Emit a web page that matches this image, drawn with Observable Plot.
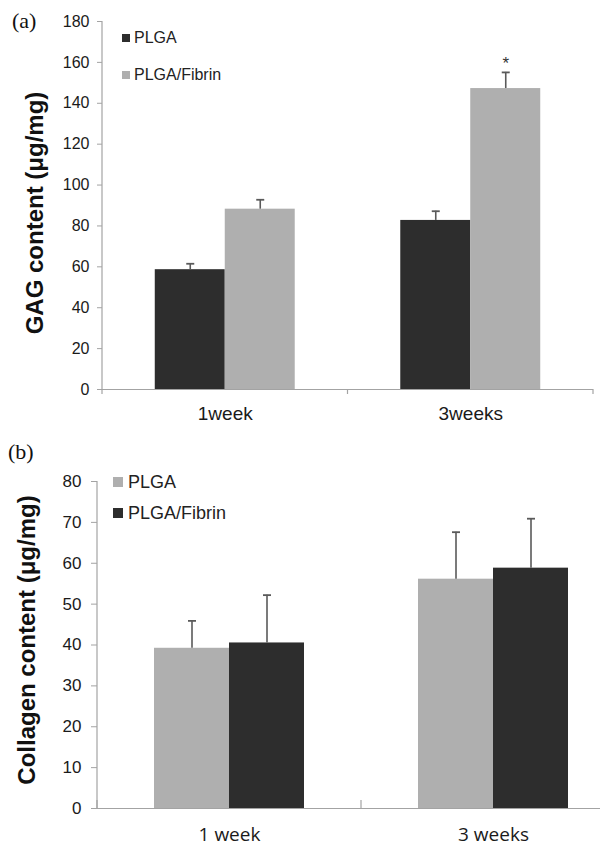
<!DOCTYPE html>
<html>
<head>
<meta charset="utf-8">
<script src="https://cdn.jsdelivr.net/npm/d3@7"></script>
<script src="https://cdn.jsdelivr.net/npm/@observablehq/plot@0.6"></script>
<style>
  html, body { margin: 0; padding: 0; background: #fff; overflow: hidden; }
  #wrap { position: relative; width: 600px; height: 847px; overflow: hidden; }
  .plabel { position: absolute; font-family: "Liberation Serif", "DejaVu Serif", serif; font-size: 22px; color: #111; line-height: 1; }
  .ytitle { position: absolute; font-family: "Liberation Sans", Arial, sans-serif; font-weight: bold; font-size: 24px; color: #111; white-space: nowrap; transform: translate(-50%, -50%) rotate(-90deg); line-height: 1; }
  .leg { position: absolute; font-family: "Liberation Sans", Arial, sans-serif; color: #222; white-space: nowrap; display: flex; align-items: center; }
  .leg .sw { display: inline-block; }
</style>
</head>
<body>
<div id="wrap"></div>
<script>
// ---------- Data ----------
// Panel (a): GAG content
const weeksA = ["1week", "3weeks"];
const seriesA = ["PLGA", "PLGA/Fibrin"];
const gagPLGA = [58.6, 82.7];
const gagPLGAErr = [2.9, 4.5];
const gagFibrin = [88.2, 147.2];
const gagFibrinErr = [4.6, 7.9];
const gagFibrinSig = ["", "*"];
const ticksA = [0, 20, 40, 60, 80, 100, 120, 140, 160, 180];
const colorsA = ["#2d2d2d", "#afafaf"];

// Panel (b): Collagen content
const weeksB = ["1 week", "3 weeks"];
const seriesB = ["PLGA", "PLGA/Fibrin"];
const colPLGA = [39.2, 56.1];
const colPLGAErr = [6.7, 11.5];
const colFibrin = [40.5, 58.8];
const colFibrinErr = [11.7, 12.1];
const ticksB = [0, 10, 20, 30, 40, 50, 60, 70, 80];
const colorsB = ["#afafaf", "#2d2d2d"];

const axisColor = "#a3a3a3";
const errColor = "#5a5a5a";

function rows(weeks, series, vals, errs, sigs) {
  const out = [];
  weeks.forEach((w, i) => {
    series.forEach((s, j) => {
      out.push({week: w, series: s, value: vals[j][i], err: errs[j][i], sig: sigs ? (sigs[j] ? sigs[j][i] : "") : ""});
    });
  });
  return out;
}

const capSymbol = {
  draw(ctx, size) {
    const w = Math.sqrt(size / Math.PI);
    ctx.moveTo(-w, 0);
    ctx.lineTo(w, 0);
  }
};

function makePanel(cfg) {
  const data = rows(cfg.weeks, cfg.series, cfg.values, cfg.errs, cfg.sigs);
  const marks = [
    Plot.barY(data, {fx: "week", x: "series", y: "value", fill: "series"}),
    Plot.ruleX(data, {fx: "week", x: "series", y1: "value", y2: d => d.value + d.err, stroke: errColor, strokeWidth: 1.6}),
    Plot.dot(data, {fx: "week", x: "series", y: d => d.value + d.err, symbol: capSymbol, r: 4, stroke: errColor, strokeWidth: 1.8, fill: "none"}),
    Plot.ruleY([0], {stroke: axisColor, strokeWidth: 1.2}),
    Plot.axisY({
      ticks: cfg.ticks, tickSize: cfg.tickSize, tickPadding: cfg.tickPadding,
      stroke: axisColor, fill: "#1a1a1a", fontSize: cfg.tickFont, label: null,
      fontFamily: "Liberation Sans, Arial, sans-serif"
    }),
    Plot.axisFx({
      anchor: "bottom", tickSize: 0, tickPadding: cfg.catPadding, label: null,
      fontSize: cfg.catFont, fill: "#1a1a1a", fontFamily: cfg.catFamily
    })
  ];
  if (cfg.sigs) {
    marks.push(Plot.text(data.filter(d => d.sig), {fx: "week", x: "series", y: d => d.value + d.err, text: "sig", lineAnchor: "bottom", dy: -3, fontSize: 17, fill: "#333"}));
  }
  const chart = Plot.plot({
    width: 600,
    height: cfg.height,
    marginTop: cfg.marginTop,
    marginBottom: cfg.marginBottom,
    marginLeft: cfg.marginLeft,
    marginRight: cfg.marginRight,
    style: {background: "transparent", fontFamily: "Liberation Sans, Arial, sans-serif", overflow: "visible"},
    fx: {domain: cfg.weeks, range: cfg.fxRange, paddingInner: 0, paddingOuter: 0, round: false},
    x: {domain: cfg.series, paddingInner: 0, paddingOuter: cfg.outer, axis: null, round: false},
    y: {domain: [0, cfg.ticks[cfg.ticks.length - 1]], axis: null},
    color: {domain: cfg.series, range: cfg.colors},
    marks
  });
  // y-axis line and category boundary ticks drawn from the plot's own scales
  const fx = chart.scale("fx");
  const y = chart.scale("y");
  const y0 = y.apply(0);
  const yTop = y.apply(cfg.ticks[cfg.ticks.length - 1]);
  const xLeft = fx.apply(cfg.weeks[0]);
  const edges = cfg.weeks.map(w => fx.apply(w));
  edges.push(fx.apply(cfg.weeks[cfg.weeks.length - 1]) + fx.bandwidth);
  const g = d3.select(chart).append("g").attr("stroke", axisColor).attr("stroke-width", 1.2);
  g.append("line").attr("x1", xLeft).attr("x2", xLeft).attr("y1", yTop).attr("y2", y0);
  g.selectAll("line.edge").data(edges).join("line").attr("class", "edge")
    .attr("x1", d => d).attr("x2", d => d).attr("y1", y0).attr("y2", y0 + cfg.edgeTick);
  return chart;
}

const wrap = document.getElementById("wrap");

const chartA = makePanel({
  weeks: weeksA, series: seriesA, values: [gagPLGA, gagFibrin], errs: [gagPLGAErr, gagFibrinErr],
  sigs: [null, gagFibrinSig], ticks: ticksA, colors: colorsA,
  height: 440, marginTop: 21, marginBottom: 51, marginLeft: 102, marginRight: 7,
  fxRange: [102, 593], outer: 0.754, tickSize: 5, tickPadding: 8, tickFont: 16,
  catPadding: 17, catFont: 19, catFamily: "Liberation Sans, Arial, sans-serif", edgeTick: 5
});
chartA.style.position = "absolute"; chartA.style.left = "0px"; chartA.style.top = "0px";
wrap.appendChild(chartA);

const chartB = makePanel({
  weeks: weeksB, series: seriesB, values: [colPLGA, colFibrin], errs: [colPLGAErr, colFibrinErr],
  sigs: null, ticks: ticksB, colors: colorsB,
  height: 407, marginTop: 41, marginBottom: 39, marginLeft: 97, marginRight: 0,
  fxRange: [97, 625], outer: 0.76, tickSize: 6, tickPadding: 10, tickFont: 17,
  catPadding: 19, catFont: 19, catFamily: "Open Sans, Liberation Sans, sans-serif", edgeTick: -8
});
chartB.style.position = "absolute"; chartB.style.left = "0px"; chartB.style.top = "440px";
wrap.appendChild(chartB);

// ---------- Panel labels, axis titles, legends ----------
function addDiv(cls, text, css) {
  const d = document.createElement("div");
  d.className = cls;
  d.textContent = text;
  Object.assign(d.style, css);
  wrap.appendChild(d);
  return d;
}
addDiv("plabel", "(a)", {left: "12px", top: "10px"});
addDiv("plabel", "(b)", {left: "8px", top: "441px"});
addDiv("ytitle", "GAG content (μg/mg)", {left: "35px", top: "213px"});
addDiv("ytitle", "Collagen content (μg/mg)", {left: "27px", top: "640px"});

function legend(series, colors, left, centers, sw, gap, font) {
  series.forEach((s, i) => {
    const d = document.createElement("div");
    d.className = "leg";
    Object.assign(d.style, {left: left + "px", top: (centers[i] - 12) + "px", height: "24px", fontSize: font + "px"});
    const box = document.createElement("span");
    box.className = "sw";
    Object.assign(box.style, {width: sw + "px", height: sw + "px", background: colors[i], marginRight: gap + "px"});
    d.appendChild(box);
    const t = document.createElement("span");
    t.textContent = s;
    d.appendChild(t);
    wrap.appendChild(d);
  });
}
legend(seriesA, colorsA, 122, [38, 75], 8, 4, 16);
legend(seriesB, colorsB, 113, [482, 513], 10, 5, 18);
</script>
</body>
</html>
